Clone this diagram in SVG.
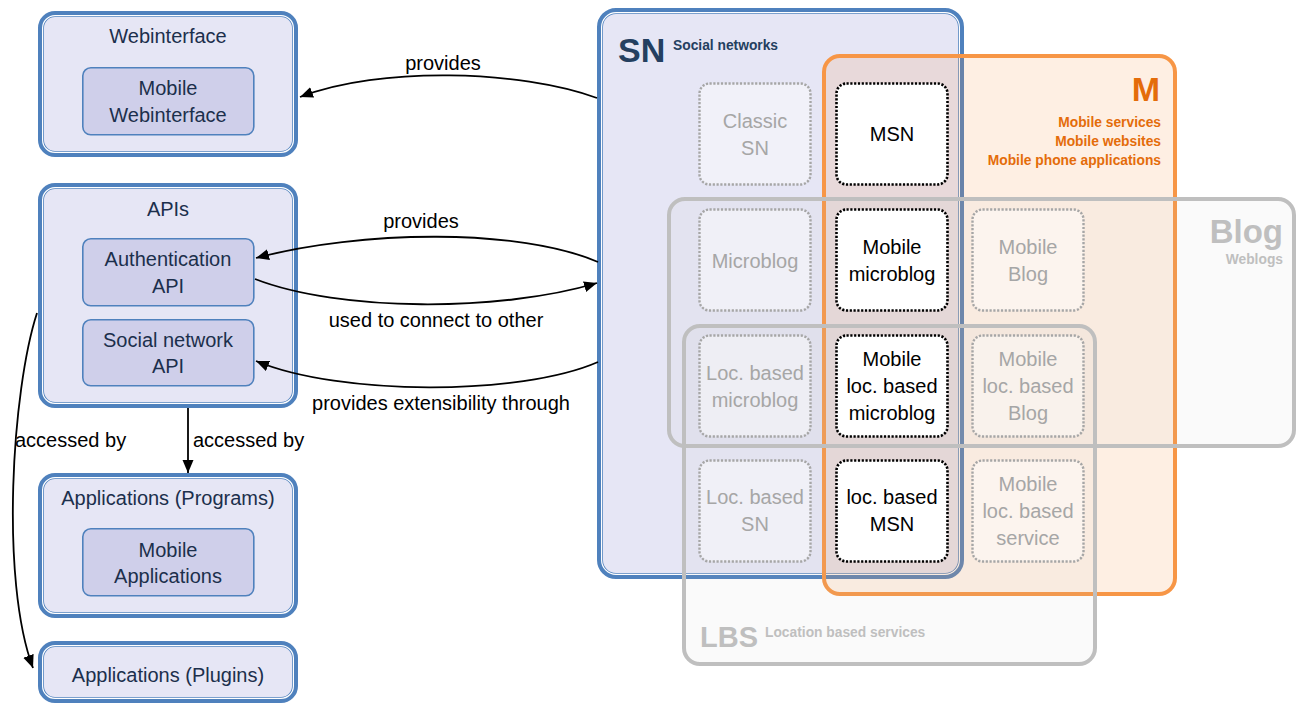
<svg xmlns="http://www.w3.org/2000/svg" width="1298" height="704" viewBox="0 0 1298 704">
<style>
  text { font-family: "Liberation Sans", Arial, sans-serif; }
  .ob { fill: #e6e6f5; stroke: #4f81bd; stroke-width: 6; }
  .obi { fill: none; stroke: #ffffff; stroke-width: 1.2; }
  .ib { fill: #cfcfea; stroke: #4f81bd; stroke-width: 1.6; }
  .nt { font-size: 20px; fill: #1c2f4c; text-anchor: middle; }
  .lbl { font-size: 20px; fill: #000; text-anchor: middle; }
  .lbls { font-size: 20px; fill: #000; text-anchor: start; }
  .con { fill: none; stroke: #000; stroke-width: 1.8; }
  .gd { fill: #ffffff; fill-opacity: 0.45; stroke: #a6a6a6; stroke-width: 2.4; stroke-dasharray: 2.2 1.6; }
  .bd { fill: #ffffff; stroke: #000; stroke-width: 2.6; stroke-dasharray: 2.2 1.6; }
  .gt { font-size: 20px; fill: #a6a6a6; text-anchor: middle; }
  .bt { font-size: 20px; fill: #000; text-anchor: middle; }
  .big { font-weight: bold; }
  .sm { font-size: 13.8px; font-weight: bold; }
</style>
<defs>
  <marker id="arr" markerUnits="userSpaceOnUse" markerWidth="14" markerHeight="12" refX="13" refY="6" orient="auto">
    <path d="M0,0.5 L13,6 L0,11.5 Z" fill="#000"/>
  </marker>
</defs>

<!-- Left column nodes -->
<g id="webinterface">
  <rect class="ob" x="41" y="14" width="254" height="140" rx="14"/>
  <rect class="obi" x="42.6" y="15.6" width="250.8" height="136.8" rx="12.5"/>
  <text class="nt" x="168" y="43">Webinterface</text>
  <g id="mobile-webinterface">
    <rect class="ib" x="82.8" y="67.8" width="171" height="67" rx="8"/>
    <text class="nt" x="168" y="95">Mobile</text>
    <text class="nt" x="168" y="122">Webinterface</text>
  </g>
</g>

<g id="apis">
  <rect class="ob" x="41" y="186" width="254" height="219" rx="14"/>
  <rect class="obi" x="42.6" y="187.6" width="250.8" height="215.8" rx="12.5"/>
  <text class="nt" x="168" y="216">APIs</text>
  <g id="authentication-api">
    <rect class="ib" x="82.8" y="238.8" width="171" height="67" rx="8"/>
    <text class="nt" x="168" y="266">Authentication</text>
    <text class="nt" x="168" y="293">API</text>
  </g>
  <g id="social-network-api">
    <rect class="ib" x="82.8" y="319.8" width="171" height="66" rx="8"/>
    <text class="nt" x="168" y="347">Social network</text>
    <text class="nt" x="168" y="373">API</text>
  </g>
</g>

<g id="applications-programs">
  <rect class="ob" x="41" y="476" width="254" height="139" rx="14"/>
  <rect class="obi" x="42.6" y="477.6" width="250.8" height="135.8" rx="12.5"/>
  <text class="nt" x="168" y="505">Applications (Programs)</text>
  <g id="mobile-applications">
    <rect class="ib" x="82.8" y="528.8" width="171" height="67" rx="8"/>
    <text class="nt" x="168" y="557">Mobile</text>
    <text class="nt" x="168" y="583">Applications</text>
  </g>
</g>

<g id="applications-plugins">
  <rect class="ob" x="41" y="644" width="254" height="56" rx="14"/>
  <rect class="obi" x="42.6" y="645.6" width="250.8" height="52.8" rx="12.5"/>
  <text class="nt" x="168" y="682">Applications (Plugins)</text>
</g>

<!-- Venn areas -->
<g id="sn">
  <rect class="ob" x="600" y="11" width="361" height="565" rx="16"/>
  <rect class="obi" x="601.6" y="12.6" width="357.8" height="561.8" rx="14.5"/>
</g>
<g id="m">
  <rect x="824" y="56" width="351" height="538" rx="16" fill="#f79646" fill-opacity="0.15" stroke="#f79646" stroke-width="4"/>
</g>
<g id="blog">
  <rect x="669" y="199" width="625" height="247" rx="16" fill="#bfbfbf" fill-opacity="0.08" stroke="#bfbfbf" stroke-width="4"/>
</g>
<g id="lbs">
  <rect x="684" y="326" width="411" height="338" rx="16" fill="#bfbfbf" fill-opacity="0.08" stroke="#bfbfbf" stroke-width="4"/>
</g>

<g id="sn-label">
  <text class="big" x="618" y="62" font-size="34" fill="#243f60">SN</text>
  <text class="sm" x="673" y="50" fill="#243f60">Social networks</text>
</g>
<g id="m-label">
  <text class="big" x="1160" y="101" font-size="34" fill="#e46c0a" text-anchor="end">M</text>
  <text class="sm" x="1161" y="127" fill="#e46c0a" text-anchor="end">Mobile services</text>
  <text class="sm" x="1161" y="146" fill="#e46c0a" text-anchor="end">Mobile websites</text>
  <text class="sm" x="1161" y="165" fill="#e46c0a" text-anchor="end">Mobile phone applications</text>
</g>
<g id="blog-label">
  <text class="big" x="1283" y="243" font-size="33" fill="#bfbfbf" text-anchor="end">Blog</text>
  <text class="sm" x="1283" y="264" fill="#bfbfbf" text-anchor="end">Weblogs</text>
</g>
<g id="lbs-label">
  <text class="big" x="700" y="647" font-size="29" fill="#bfbfbf">LBS</text>
  <text class="sm" x="765" y="637" fill="#bfbfbf">Location based services</text>
</g>

<!-- Category boxes -->
<g id="classic-sn">
  <rect class="gd" x="699.5" y="83.5" width="111" height="101" rx="10"/>
  <text class="gt" x="755" y="128">Classic</text>
  <text class="gt" x="755" y="155">SN</text>
</g>
<g id="msn">
  <rect class="bd" x="836.5" y="83.5" width="111" height="101" rx="10"/>
  <text class="bt" x="892" y="141">MSN</text>
</g>
<g id="microblog">
  <rect class="gd" x="699.5" y="209.5" width="111" height="101" rx="10"/>
  <text class="gt" x="755" y="268">Microblog</text>
</g>
<g id="mobile-microblog">
  <rect class="bd" x="836.5" y="209.5" width="111" height="101" rx="10"/>
  <text class="bt" x="892" y="254">Mobile</text>
  <text class="bt" x="892" y="281">microblog</text>
</g>
<g id="mobile-blog">
  <rect class="gd" x="972.5" y="209.5" width="111" height="101" rx="10"/>
  <text class="gt" x="1028" y="254">Mobile</text>
  <text class="gt" x="1028" y="281">Blog</text>
</g>
<g id="loc-based-microblog">
  <rect class="gd" x="699.5" y="335.5" width="111" height="101" rx="10"/>
  <text class="gt" x="755" y="380">Loc. based</text>
  <text class="gt" x="755" y="407">microblog</text>
</g>
<g id="mobile-loc-based-microblog">
  <rect class="bd" x="836.5" y="335.5" width="111" height="101" rx="10"/>
  <text class="bt" x="892" y="366">Mobile</text>
  <text class="bt" x="892" y="393">loc. based</text>
  <text class="bt" x="892" y="420">microblog</text>
</g>
<g id="mobile-loc-based-blog">
  <rect class="gd" x="972.5" y="335.5" width="111" height="101" rx="10"/>
  <text class="gt" x="1028" y="366">Mobile</text>
  <text class="gt" x="1028" y="393">loc. based</text>
  <text class="gt" x="1028" y="420">Blog</text>
</g>
<g id="loc-based-sn">
  <rect class="gd" x="699.5" y="460.5" width="111" height="101" rx="10"/>
  <text class="gt" x="755" y="504">Loc. based</text>
  <text class="gt" x="755" y="531">SN</text>
</g>
<g id="loc-based-msn">
  <rect class="bd" x="836.5" y="460.5" width="111" height="101" rx="10"/>
  <text class="bt" x="892" y="504">loc. based</text>
  <text class="bt" x="892" y="531">MSN</text>
</g>
<g id="mobile-loc-based-service">
  <rect class="gd" x="972.5" y="460.5" width="111" height="101" rx="10"/>
  <text class="gt" x="1028" y="491">Mobile</text>
  <text class="gt" x="1028" y="518">loc. based</text>
  <text class="gt" x="1028" y="545">service</text>
</g>

<!-- Connectors -->
<g id="connectors">
  <path class="con" d="M597,98 C520,70 380,66 300,97" marker-end="url(#arr)"/>
  <text class="lbl" x="443" y="70">provides</text>
  <path class="con" d="M598,262 C520,228 360,230 256,258" marker-end="url(#arr)"/>
  <text class="lbl" x="421" y="228">provides</text>
  <path class="con" d="M255,279 C340,312 500,312 597,283" marker-end="url(#arr)"/>
  <text class="lbl" x="436" y="327">used to connect to other</text>
  <path class="con" d="M598,362 C520,396 340,396 256,361" marker-end="url(#arr)"/>
  <text class="lbl" x="441" y="410">provides extensibility through</text>
  <path class="con" d="M188,408 L188,473" marker-end="url(#arr)"/>
  <text class="lbls" x="193" y="447">accessed by</text>
  <path class="con" d="M37,313 C12,390 0,580 33,668" marker-end="url(#arr)"/>
  <text class="lbls" x="15" y="447">accessed by</text>
</g>
</svg>
